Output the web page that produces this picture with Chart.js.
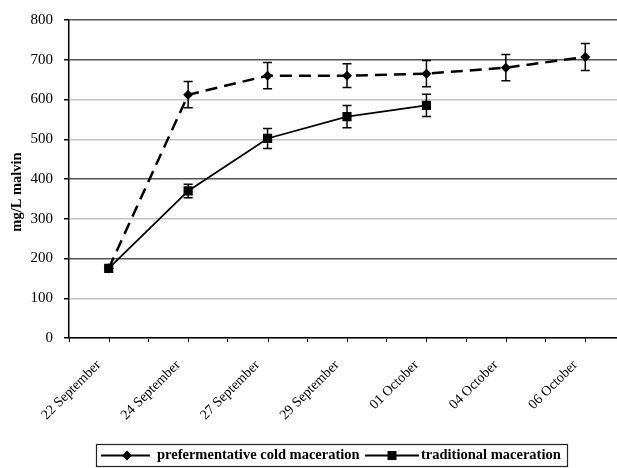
<!DOCTYPE html>
<html>
<head>
<meta charset="utf-8">
<script src="https://cdn.jsdelivr.net/npm/chart.js@4/dist/chart.umd.min.js"></script>
<style>
  html, body { margin: 0; padding: 0; background: #fff; overflow: hidden; }
  #wrap { width: 617px; height: 468px; overflow: hidden; }
  canvas { display: block; }
</style>
</head>
<body>
<div id="wrap"><canvas id="c" width="640" height="468"></canvas></div>
<script>
// Sampling dates
const categories = ['22 September', '24 September', '27 September', '29 September', '01 October', '04 October', '06 October'];

// Malvin content (mg/L) and standard deviations
const coldValues = [175, 612, 660, 660, 665, 680, 707];
const coldErrors = [0, 33, 33, 30, 33, 33, 34];
const traditionalValues = [175, 370, 502, 557, 585, null, null];
const traditionalErrors = [0, 17, 25, 28, 28, null, null];

// Value axis
const yMin = 0;
const yMax = 800;
const yStep = 100;

const seriesNames = ['prefermentative cold maceration', 'traditional maceration'];

const SERIF = '"Liberation Serif", "Times New Roman", serif';

// Grid lines: some print darker than others
const darkGrid = [200, 400, 700, 800];

// Vertical error bars drawn from each dataset's "errors" array
const errorBars = {
  id: 'errorBars',
  afterDatasetsDraw(chart) {
    const ctx = chart.ctx;
    const y = chart.scales.y;
    chart.data.datasets.forEach((ds, di) => {
      const meta = chart.getDatasetMeta(di);
      if (!ds.errors) return;
      ctx.save();
      ctx.strokeStyle = '#000';
      ctx.lineWidth = 1.5;
      meta.data.forEach((pt, i) => {
        const v = ds.data[i], e = ds.errors[i];
        if (v == null || !e) return;
        const top = y.getPixelForValue(v + e);
        const bot = y.getPixelForValue(v - e);
        const cap = 4.5;
        ctx.beginPath();
        ctx.moveTo(pt.x, top); ctx.lineTo(pt.x, bot);
        ctx.moveTo(pt.x - cap, top); ctx.lineTo(pt.x + cap, top);
        ctx.moveTo(pt.x - cap, bot); ctx.lineTo(pt.x + cap, bot);
        ctx.stroke();
      });
      ctx.restore();
    });
  }
};

// Extra tick marks at the category centres on the x axis
const centreTicks = {
  id: 'centreTicks',
  afterDraw(chart) {
    const ctx = chart.ctx;
    const x = chart.scales.x;
    const base = chart.chartArea.bottom;
    ctx.save();
    ctx.strokeStyle = '#000';
    ctx.lineWidth = 1;
    categories.forEach((c, i) => {
      const px = Math.round(x.getPixelForValue(i)) + 0.5;
      ctx.beginPath();
      ctx.moveTo(px, base);
      ctx.lineTo(px, base + 4);
      ctx.stroke();
    });
    ctx.restore();
  }
};

// Axis title and framed legend
const decorations = {
  id: 'decorations',
  afterDraw(chart) {
    const ctx = chart.ctx;
    ctx.save();
    // y axis title
    ctx.translate(17, 192);
    ctx.rotate(-Math.PI / 2);
    ctx.fillStyle = '#000';
    ctx.font = 'bold 14.5px ' + SERIF;
    ctx.textAlign = 'center';
    ctx.textBaseline = 'middle';
    ctx.fillText('mg/L malvin', 0, 0);
    ctx.restore();

    // legend frame
    ctx.save();
    const lx = 96, ly = 444, lw = 471, lh = 22;
    ctx.fillStyle = '#fff';
    ctx.fillRect(lx, ly, lw, lh);
    ctx.strokeStyle = '#222';
    ctx.lineWidth = 1.2;
    ctx.strokeRect(lx + 0.5, ly + 0.5, lw, lh);
    const cy = ly + lh / 2 + 0.5;
    ctx.strokeStyle = '#000';
    ctx.fillStyle = '#000';
    ctx.lineWidth = 2;
    // first entry: line with diamond
    ctx.beginPath(); ctx.moveTo(101, cy); ctx.lineTo(150, cy); ctx.stroke();
    ctx.beginPath();
    ctx.moveTo(127, cy - 5); ctx.lineTo(132, cy); ctx.lineTo(127, cy + 5); ctx.lineTo(122, cy);
    ctx.closePath(); ctx.fill();
    // second entry: line with square
    ctx.lineWidth = 1.8;
    ctx.beginPath(); ctx.moveTo(365, cy); ctx.lineTo(419, cy); ctx.stroke();
    ctx.fillRect(387.5, cy - 4.5, 9, 9);
    ctx.font = 'bold 14.5px ' + SERIF;
    ctx.textAlign = 'left';
    ctx.textBaseline = 'middle';
    ctx.fillText(seriesNames[0], 157, cy);
    ctx.fillText(seriesNames[1], 421, cy);
    ctx.restore();
  }
};

new Chart(document.getElementById('c'), {
  type: 'line',
  data: {
    labels: categories,
    datasets: [
      {
        label: seriesNames[0],
        data: coldValues,
        errors: coldErrors,
        borderColor: '#000',
        backgroundColor: '#000',
        borderWidth: 2.5,
        borderDash: [12, 7],
        pointStyle: 'rectRot',
        pointRadius: 5,
        pointBorderWidth: 0,
        tension: 0,
        fill: false,
        order: 2
      },
      {
        label: seriesNames[1],
        data: traditionalValues,
        errors: traditionalErrors,
        borderColor: '#000',
        backgroundColor: '#000',
        borderWidth: 1.8,
        pointStyle: 'rect',
        pointRadius: 6.5,
        pointBorderWidth: 0,
        tension: 0,
        fill: false,
        order: 1
      }
    ]
  },
  options: {
    responsive: false,
    animation: false,
    devicePixelRatio: 1,
    layout: { padding: { left: 0, right: 15, top: 18, bottom: 0 } },
    plugins: {
      legend: { display: false },
      tooltip: { enabled: false }
    },
    scales: {
      x: {
        type: 'category',
        offset: true,
        afterFit(scale) { scale.height = 130; },
        grid: {
          offset: true,
          drawOnChartArea: false,
          drawTicks: true,
          tickLength: 4,
          tickColor: '#000',
          color: '#000'
        },
        border: { display: true, color: '#000', width: 1.5 },
        ticks: {
          color: '#000',
          font: { family: SERIF, size: 14 },
          maxRotation: 45,
          minRotation: 45,
          labelOffset: -10,
          padding: 15,
          autoSkip: false
        }
      },
      y: {
        min: yMin,
        max: yMax,
        afterFit(scale) { scale.width = 69; },
        grid: {
          color: (ctx) => darkGrid.includes(ctx.tick && ctx.tick.value) ? '#555' : '#c4c4c4',
          lineWidth: 1.5,
          tickLength: 5,
          tickColor: '#000'
        },
        border: { display: true, color: '#000', width: 1.5 },
        ticks: {
          stepSize: yStep,
          color: '#000',
          font: { family: SERIF, size: 15 },
          padding: 11
        }
      }
    }
  },
  plugins: [errorBars, centreTicks, decorations]
});
</script>
</body>
</html>
